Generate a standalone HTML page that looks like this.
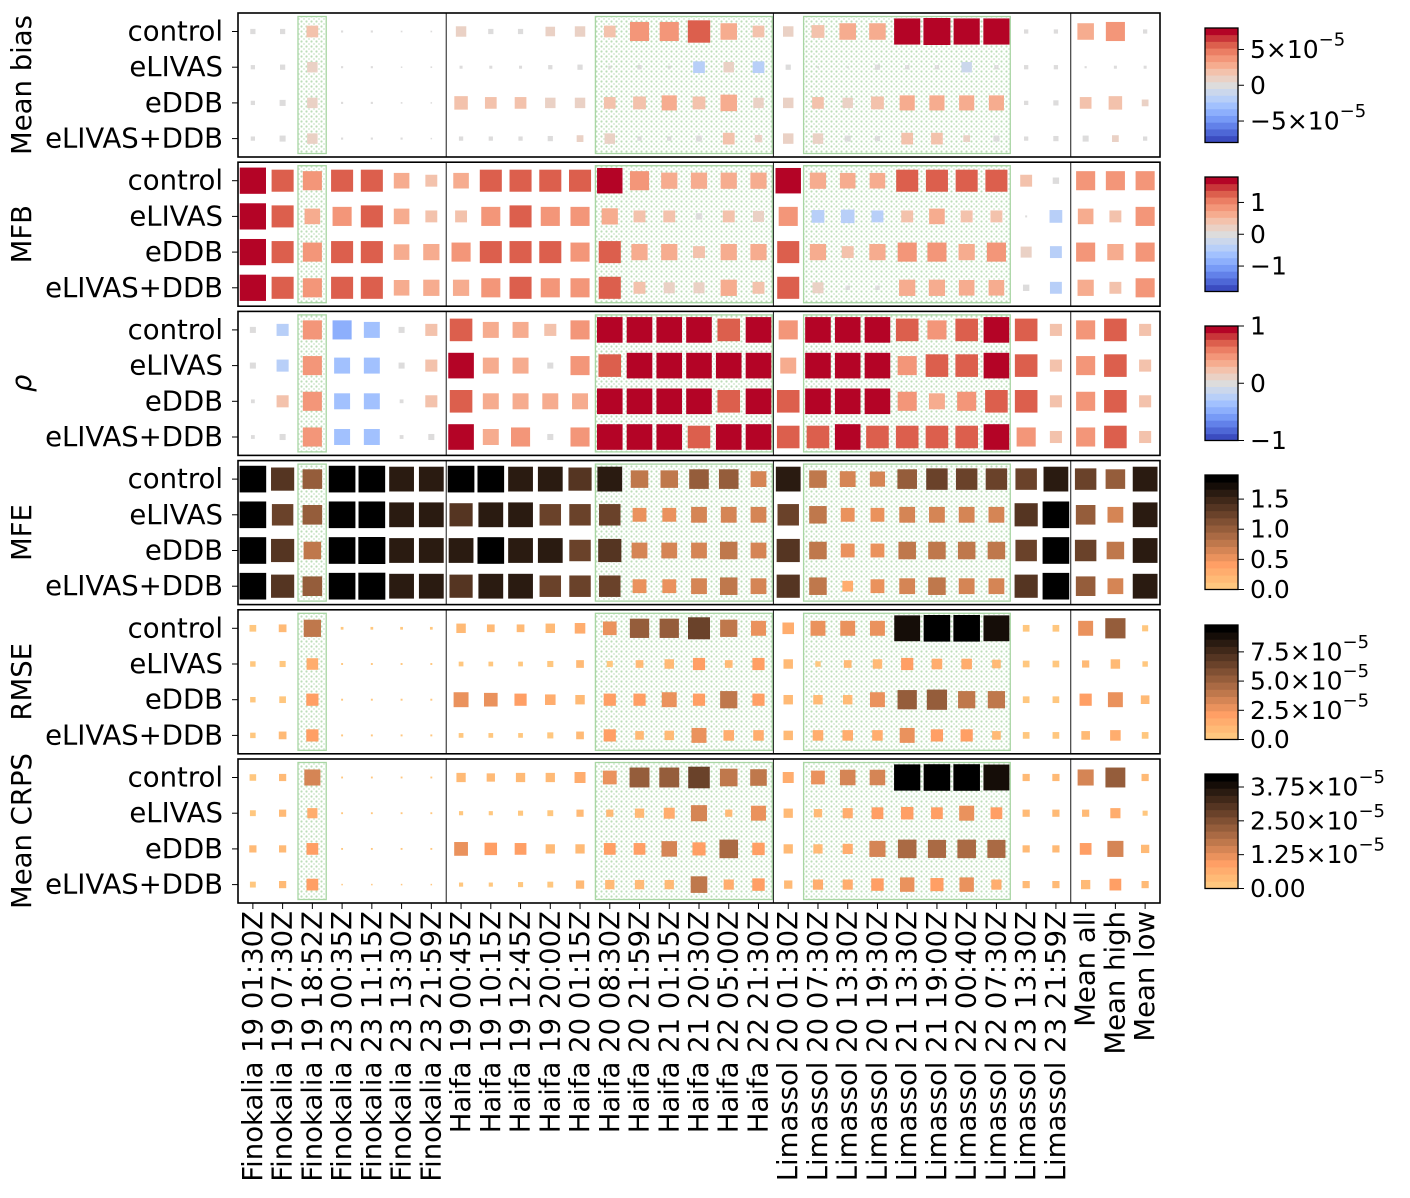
<!DOCTYPE html>
<html><head><meta charset="utf-8"><style>
html,body{margin:0;padding:0;background:#fff;}
svg{display:block;font-family:"DejaVu Sans","Liberation Sans",sans-serif;}
</style></head><body>
<svg id="chart" width="1410" height="1198" viewBox="0 0 1410 1198" xmlns="http://www.w3.org/2000/svg">
<defs>
<pattern id="hatch" width="5" height="5" patternUnits="userSpaceOnUse">
<circle cx="1.5" cy="1.5" r="1.1" fill="#9fd09a" fill-opacity="0.7"/>
<circle cx="4" cy="4" r="0.9" fill="#9fd09a" fill-opacity="0.55"/>
</pattern>
</defs>
</svg>
<script>
const categories=["Finokalia 19 01:30Z","Finokalia 19 07:30Z","Finokalia 19 18:52Z","Finokalia 23 00:35Z","Finokalia 23 11:15Z","Finokalia 23 13:30Z","Finokalia 23 21:59Z","Haifa 19 00:45Z","Haifa 19 10:15Z","Haifa 19 12:45Z","Haifa 19 20:00Z","Haifa 20 01:15Z","Haifa 20 08:30Z","Haifa 20 21:59Z","Haifa 21 01:15Z","Haifa 21 20:30Z","Haifa 22 05:00Z","Haifa 22 21:30Z","Limassol 20 01:30Z","Limassol 20 07:30Z","Limassol 20 13:30Z","Limassol 20 19:30Z","Limassol 21 13:30Z","Limassol 21 19:00Z","Limassol 22 00:40Z","Limassol 22 07:30Z","Limassol 23 13:30Z","Limassol 23 21:59Z","Mean all","Mean high","Mean low"];
const experiments=["control","eLIVAS","eDDB","eLIVAS+DDB"];
const highlightGroups=[[2,2],[12,17],[19,25]];
const groupSeparators=[7,18,28];

// Mean bias (x1e-5)
const meanBiasControl=[0.3,0.3,1.5,0.05,0.05,0.03,0.03,1.2,0.3,0.3,1,1.2,1.5,4,4,5.5,3,1.5,1.2,1.8,3,3,7.5,8,7.5,7.5,0.2,0.2,3,4,0.2];
const meanBiasELIVAS=[0.2,0.3,1.2,0.05,0.05,0,0.03,0.1,0.1,0.1,0.2,0.3,0.1,0.2,0.1,-1.5,1.2,-1.5,0.3,0.05,0.05,0.3,0.2,0.2,-1.2,0.2,0.2,0.2,0.05,0.1,0.1];
const meanBiasEDDB=[0.2,0.4,1.2,0.05,0.05,0.03,0.01,2,1.5,1.5,1.2,1.2,1.5,1.8,2.5,1.8,3,1.2,1.2,1.5,1.2,1.8,2.5,2.5,2.5,2.5,0.2,0.3,1.5,2,0.5];
const meanBiasBoth=[0.2,0.4,1.2,0.05,0.05,0.05,0,0.2,0.2,0.2,0.3,0.5,1.2,0.2,0.2,0.4,1.5,0.6,1.2,1.2,0.4,0.3,1.5,1.5,0.5,0.4,0.2,0.3,0.4,0.5,0.2];
// MFB
const mfbControl=[1.7,1.2,0.9,1.2,1.2,0.6,0.35,0.6,1.2,1.2,1.2,1.2,1.6,0.9,0.65,0.65,0.65,0.65,1.6,0.65,0.6,0.6,1.2,1.2,1.2,1.2,0.35,0.1,0.9,0.9,0.9];
const mfbELIVAS=[1.7,1.2,0.6,0.9,1.2,0.6,0.35,0.35,0.9,1.2,0.9,0.9,0.65,0.35,0.35,0.1,0.35,0.3,0.9,-0.4,-0.45,-0.35,0.35,0.6,0.35,0.35,0.01,-0.4,0.6,0.35,0.9];
const mfbEDDB=[1.7,1.2,0.9,1.2,1.2,0.6,0.65,0.9,1.2,1.2,1.2,0.9,1.2,0.65,0.65,0.35,0.65,0.65,1.2,0.65,0.35,0.65,0.9,0.9,0.65,0.9,0.3,-0.35,0.9,0.65,0.9];
const mfbBoth=[1.7,1.2,0.9,1.2,1.2,0.6,0.65,0.65,0.9,1.2,0.9,0.9,1.2,0.35,0.3,0.3,0.65,0.35,1.2,0.3,0.05,0.05,0.65,0.65,0.6,0.6,0.1,-0.35,0.65,0.35,0.9];
// Correlation rho
const rhoControl=[0.05,-0.2,0.5,-0.5,-0.35,0.05,0.2,0.7,0.35,0.35,0.2,0.5,0.9,0.9,0.9,0.9,0.7,0.9,0.5,0.9,0.9,0.9,0.7,0.5,0.7,0.9,0.7,0.2,0.5,0.7,0.2];
const rhoELIVAS=[0.05,-0.2,0.5,-0.35,-0.35,0.05,0.2,0.9,0.35,0.35,0.05,0.5,0.7,0.9,0.9,0.9,0.9,0.9,0.35,0.9,0.9,0.9,0.5,0.7,0.7,0.9,0.7,0.2,0.5,0.7,0.2];
const rhoEDDB=[0.02,0.2,0.5,-0.35,-0.35,0.02,0.2,0.7,0.35,0.35,0.35,0.35,0.9,0.9,0.9,0.9,0.7,0.9,0.7,0.9,0.9,0.9,0.5,0.35,0.5,0.7,0.7,0.2,0.5,0.7,0.2];
const rhoBoth=[0.02,0.05,0.5,-0.35,-0.35,0.02,0.05,0.9,0.35,0.5,0.05,0.5,0.9,0.9,0.9,0.7,0.9,0.9,0.7,0.7,0.9,0.7,0.7,0.7,0.7,0.9,0.5,0.2,0.5,0.7,0.2];
// MFE
const mfeControl=[1.85,1.4,1.0,1.85,1.85,1.6,1.6,1.85,1.85,1.6,1.6,1.4,1.6,0.8,0.8,1.0,1.0,0.65,1.6,0.8,0.65,0.6,1.0,1.2,1.2,1.2,1.2,1.6,1.2,1.0,1.6];
const mfeELIVAS=[1.85,1.2,1.0,1.85,1.85,1.6,1.6,1.4,1.6,1.6,1.2,1.2,1.2,0.5,0.5,0.65,0.65,0.65,1.2,0.8,0.5,0.5,0.65,0.65,0.65,0.65,1.4,1.85,1.0,0.65,1.6];
const mfeEDDB=[1.85,1.4,0.8,1.85,1.9,1.6,1.6,1.6,1.85,1.6,1.6,1.2,1.4,0.65,0.65,0.65,0.8,0.65,1.4,0.8,0.5,0.5,0.8,0.8,0.8,0.8,1.2,1.85,1.2,0.8,1.6];
const mfeBoth=[1.85,1.4,1.0,1.85,1.9,1.6,1.6,1.4,1.6,1.6,1.2,1.2,1.2,0.5,0.5,0.65,0.8,0.65,1.4,0.8,0.3,0.5,0.65,0.8,0.65,0.65,1.4,1.85,1.0,0.65,1.6];
// RMSE (x1e-5)
const rmseControl=[0.6,0.8,4,0.1,0.1,0.1,0.1,1.2,0.8,0.8,1.2,1.5,2.5,5,5,6.5,4,3,1.8,3,3,3,9,9.5,9.5,9,0.6,0.6,3,5.5,0.5];
const rmseELIVAS=[0.4,0.5,1.8,0.05,0.05,0.05,0.05,0.3,0.3,0.3,0.5,0.8,0.5,0.8,1.2,2,0.8,2,1.2,0.4,0.8,1.2,2,1.5,1.5,1,0.6,0.6,0.7,1.2,0.4];
const rmseEDDB=[0.4,0.6,2,0.05,0.05,0.05,0.05,3,2.5,2,1.5,1.2,2,2,3,2,4,2,1.2,1.2,1.2,3,5,5.5,4,4,0.6,0.6,2,3,1];
const rmseBoth=[0.4,0.8,2,0.05,0.05,0.05,0.05,0.3,0.3,0.3,0.5,0.8,2,1,1.2,3,1.5,1.5,1.2,1.5,1.5,1.5,3,2,2,1,0.6,0.6,1,1.5,0.6];
// Mean CRPS (x1e-5)
const crpsControl=[0.25,0.3,1.5,0.02,0.02,0.02,0.02,0.5,0.4,0.5,0.5,0.7,1.1,2.3,2.3,2.7,1.8,1.6,0.7,1.1,1.4,1.4,4,4.1,4.1,3.9,0.3,0.3,1.5,2.3,0.3];
const crpsELIVAS=[0.2,0.3,0.6,0.02,0.02,0.02,0.02,0.1,0.1,0.15,0.2,0.3,0.3,0.5,0.7,1.5,0.3,1.3,0.5,0.4,0.6,0.8,0.9,0.8,1.3,0.8,0.3,0.3,0.3,0.6,0.15];
const crpsEDDB=[0.3,0.3,0.8,0.02,0.02,0.02,0.02,1.1,0.9,0.8,0.5,0.5,0.8,0.8,1.4,1,2,0.9,0.5,0.5,0.6,1.5,2,1.9,2,1.9,0.3,0.3,0.8,1.5,0.4];
const crpsBoth=[0.2,0.3,0.8,0.01,0.01,0.01,0.01,0.1,0.1,0.15,0.2,0.4,0.5,0.5,0.5,1.6,0.6,0.9,0.4,0.6,0.6,0.9,1.2,1,1.2,0.6,0.3,0.3,0.5,0.8,0.3];

const meanBiasTicks=[-5,0,5];
const meanBiasTickLabels=[["−5×10","−5"],["0",""],["5×10","−5"]];
const mfbTicks=[-1,0,1];
const mfbTickLabels=[["−1",""],["0",""],["1",""]];
const rhoTicks=[-1,0,1];
const rhoTickLabels=[["−1",""],["0",""],["1",""]];
const mfeTicks=[0,0.5,1.0,1.5];
const mfeTickLabels=[["0.0",""],["0.5",""],["1.0",""],["1.5",""]];
const rmseTicks=[0,2.5,5,7.5];
const rmseTickLabels=[["0.0",""],["2.5×10","−5"],["5.0×10","−5"],["7.5×10","−5"]];
const crpsTicks=[0,1.25,2.5,3.75];
const crpsTickLabels=[["0.00",""],["1.25×10","−5"],["2.50×10","−5"],["3.75×10","−5"]];

const panels=[
 {title:"Mean bias",key:"mean-bias",rows:[meanBiasControl,meanBiasELIVAS,meanBiasEDDB,meanBiasBoth],cmap:"cw",vmax:8,ticks:meanBiasTicks,labels:meanBiasTickLabels},
 {title:"MFB",key:"mfb",rows:[mfbControl,mfbELIVAS,mfbEDDB,mfbBoth],cmap:"cw",vmax:1.8,ticks:mfbTicks,labels:mfbTickLabels},
 {title:"ρ",key:"rho",italic:true,rows:[rhoControl,rhoELIVAS,rhoEDDB,rhoBoth],cmap:"cw",vmax:1,ticks:rhoTicks,labels:rhoTickLabels},
 {title:"MFE",key:"mfe",rows:[mfeControl,mfeELIVAS,mfeEDDB,mfeBoth],cmap:"cu",vmax:1.9,ticks:mfeTicks,labels:mfeTickLabels},
 {title:"RMSE",key:"rmse",rows:[rmseControl,rmseELIVAS,rmseEDDB,rmseBoth],cmap:"cu",vmax:9.8,ticks:rmseTicks,labels:rmseTickLabels},
 {title:"Mean CRPS",key:"mean-crps",rows:[crpsControl,crpsELIVAS,crpsEDDB,crpsBoth],cmap:"cu",vmax:4.23,ticks:crpsTicks,labels:crpsTickLabels}
];

const NS="http://www.w3.org/2000/svg";
const svg=document.getElementById("chart");
function mk(tag,attrs,parent){const e=document.createElementNS(NS,tag);for(const k in attrs)e.setAttribute(k,attrs[k]);(parent||svg).appendChild(e);return e;}

const X0=238,X1=1160,PANEL_H=144,PANEL_STEP=149.2,P0=13,MAXS=27;
const colW=(X1-X0)/categories.length;
function xScale(i){return X0+colW*(i+0.5);}
function panelTop(p){return P0+p*PANEL_STEP;}
function yScale(p,r){return panelTop(p)+18.5+35.7*r;}

const cwStops=[[0,"#3b4cc0"],[0.1,"#5977e3"],[0.2,"#7b9ff9"],[0.3,"#9ebeff"],[0.4,"#c0d4f5"],[0.5,"#dddcdc"],[0.6,"#f2cbb7"],[0.7,"#f7a889"],[0.8,"#ee8468"],[0.9,"#d65244"],[1,"#b40426"]];
function hex2rgb(h){return [parseInt(h.slice(1,3),16),parseInt(h.slice(3,5),16),parseInt(h.slice(5,7),16)];}
function coolwarm(t){t=Math.max(0,Math.min(1,t));for(let i=1;i<cwStops.length;i++){if(t<=cwStops[i][0]){const a=cwStops[i-1],b=cwStops[i];const f=(t-a[0])/(b[0]-a[0]);const A=hex2rgb(a[1]),B=hex2rgb(b[1]);return "rgb("+A.map((v,j)=>Math.round(v+(B[j]-v)*f)).join(",")+")";}}return cwStops[10][1];}
function copperR(t){t=Math.max(0,Math.min(1,t));const x=1-t;return "rgb("+[Math.min(1,1.25*x),0.7812*x,0.4975*x].map(v=>Math.round(v*255)).join(",")+")";}
const CW_N=17,CU_N=16;
function colorFor(p,v){
 if(p.cmap==="cw"){let t=(v+p.vmax)/(2*p.vmax);let k=Math.min(CW_N-1,Math.max(0,Math.floor(t*CW_N)));return coolwarm(k/(CW_N-1));}
 let t=v/p.vmax;let k=Math.min(CU_N-1,Math.max(0,Math.floor(t*CU_N)));return copperR(k/(CU_N-1));
}
function sizeFor(p,v){return Math.max(1.5,MAXS*Math.sqrt(Math.min(1,Math.abs(v)/p.vmax)));}

const cbTops=[28,177,326,475,625,774],CB_H=114.5,CB_X=1205,CB_W=33;

panels.forEach((p,pi)=>{
 const top=panelTop(pi),bot=top+PANEL_H;
 const g=mk("g",{});
 
 
 highlightGroups.forEach(([a,b])=>{
  const r=mk("rect",{x:X0+colW*a+0.5,y:top+3.5,width:colW*(b-a+1)-1.5,height:PANEL_H-7,fill:"url(#hatch)",stroke:"#a9d6a4","stroke-width":1.3},g);
  
  
 });
 groupSeparators.forEach(s=>{
  const l=mk("line",{x1:X0+colW*s,x2:X0+colW*s,y1:top,y2:bot,stroke:"#000","stroke-width":0.9},g);
  
  
 });
 p.rows.forEach((arr,ri)=>{
  arr.forEach((v,ci)=>{
   const s=sizeFor(p,v);
   const r=mk("rect",{x:xScale(ci)-s/2,y:yScale(pi,ri)-s/2,width:s,height:s,fill:colorFor(p,v)},g);
   
   
  });
  const t=mk("text",{x:223,y:yScale(pi,ri),"text-anchor":"end","dominant-baseline":"central","font-size":"27.5",fill:"#000"},g);
  t.textContent=experiments[ri];
  
  
  mk("line",{x1:X0-6,x2:X0,y1:yScale(pi,ri),y2:yScale(pi,ri),stroke:"#000","stroke-width":1},g);
 });
 const fr=mk("rect",{x:X0,y:top,width:X1-X0,height:PANEL_H,fill:"none",stroke:"#000","stroke-width":1.6},g);
 
 
 const cy=top+PANEL_H/2;
 const tt=mk("text",{x:22,y:cy,"text-anchor":"middle","dominant-baseline":"central","font-size":"27.5",transform:"rotate(-90,22,"+cy+")","font-style":p.italic?"italic":"normal"},g);
 tt.textContent=p.title;
 
 

 const cbt=cbTops[pi];
 const cg=mk("g",{});
 
 
 const N=p.cmap==="cw"?CW_N:CU_N;
 const vmin=p.cmap==="cw"?-p.vmax:0;
 for(let k=0;k<N;k++){
  const h=CB_H/N;
  const c=p.cmap==="cw"?coolwarm(k/(N-1)):copperR(k/(N-1));
  mk("rect",{x:CB_X,y:cbt+CB_H-(k+1)*h,width:CB_W,height:h+0.4,fill:c},cg);
 }
 mk("rect",{x:CB_X,y:cbt,width:CB_W,height:CB_H,fill:"none",stroke:"#000","stroke-width":1.3},cg);
 p.ticks.forEach((tv,ti)=>{
  const y=cbt+CB_H-(tv-vmin)/(p.vmax-vmin)*CB_H;
  mk("line",{x1:CB_X+CB_W,x2:CB_X+CB_W+6,y1:y,y2:y,stroke:"#000","stroke-width":1},cg);
  const t=mk("text",{x:CB_X+CB_W+12,y:y,"dominant-baseline":"central","font-size":"25"},cg);
  const lab=p.labels[ti];
  t.appendChild(document.createTextNode(lab[0]));
  if(lab[1]){const sp=mk("tspan",{dy:"-10","font-size":"18"},t);sp.textContent=lab[1];}
  
  
 });
});

const bottom=panelTop(5)+PANEL_H;
categories.forEach((c,i)=>{
 const x=xScale(i);
 mk("line",{x1:x,x2:x,y1:bottom,y2:bottom+6,stroke:"#000","stroke-width":1});
 const t=mk("text",{x:x,y:bottom+8,"text-anchor":"end","dominant-baseline":"central","font-size":"27.5",transform:"rotate(-90,"+x+","+(bottom+8)+")"});
 t.textContent=c;
 
 
});
</script>
</body></html>
